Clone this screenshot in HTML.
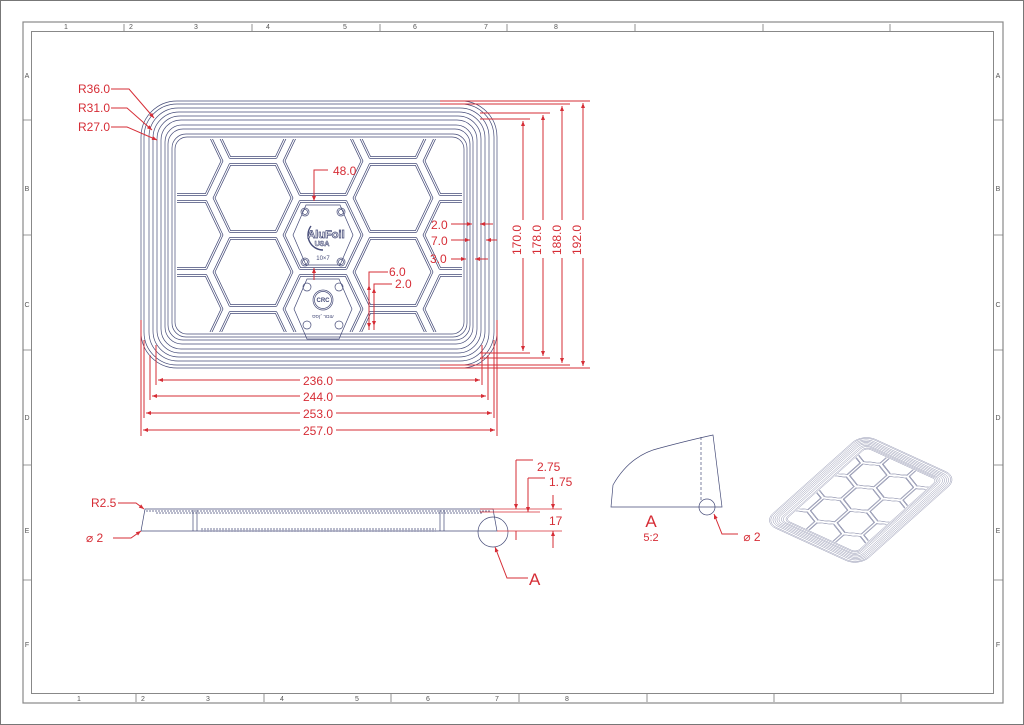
<!DOCTYPE html>
<html><head><meta charset="utf-8"><style>
html,body{margin:0;padding:0;background:#fff}
svg{display:block}
text{font-family:"Liberation Sans Narrow","Liberation Sans",sans-serif}
.r{fill:#d62d36}
.rl{stroke:#d62d36;stroke-width:1;fill:none}
.n{stroke:#454b78;stroke-width:0.7;fill:none}
.g{stroke:#888;fill:none}
</style></head><body>
<svg width="1024" height="725" viewBox="0 0 1024 725" xmlns="http://www.w3.org/2000/svg">
<defs>
<marker id="ar" viewBox="0 0 10 10" refX="10" refY="5" markerWidth="7" markerHeight="5" orient="auto-start-reverse" markerUnits="userSpaceOnUse">
<path d="M0,1 L10,5 L0,9 z" fill="#d62d36"/></marker>
<clipPath id="inner"><rect x="177" y="139" width="285" height="193" rx="10"/></clipPath>
<path id="h" d="M-39,0 L-23,-33.5 H23 L39,0 L23,33.5 H-23Z"/>
<g id="cells">
<use href="#h" x="183" y="161"/><use href="#h" x="183" y="235"/><use href="#h" x="183" y="309"/>
<use href="#h" x="253" y="124"/><use href="#h" x="253" y="198"/><use href="#h" x="253" y="272"/><use href="#h" x="253" y="346"/>
<use href="#h" x="323" y="161"/><use href="#h" x="323" y="235"/><use href="#h" x="323" y="309"/>
<use href="#h" x="393" y="124"/><use href="#h" x="393" y="198"/><use href="#h" x="393" y="272"/><use href="#h" x="393" y="346"/>
<use href="#h" x="463" y="161"/><use href="#h" x="463" y="235"/><use href="#h" x="463" y="309"/>
</g>
<g id="hexes">
<g clip-path="url(#inner)" stroke-linejoin="round" fill="none">
<use href="#cells" stroke="#454b78" stroke-width="2.6"/>
<use href="#cells" stroke="#fff" stroke-width="1.1"/>
</g>
<rect x="175" y="137" width="289" height="197" rx="12" fill="none" stroke="#454b78" stroke-width="0.7"/>
<rect x="172" y="134" width="295" height="203" rx="14" fill="none" stroke="#454b78" stroke-width="0.7"/>
</g>
<g id="tray">
<g class="n">
<rect x="141" y="101" width="356" height="267" rx="36"/>
<rect x="144" y="104" width="350" height="261" rx="33"/>
<rect x="149" y="108" width="340" height="253" rx="29"/>
<rect x="153" y="112" width="332" height="245" rx="26"/>
<rect x="157" y="116" width="324" height="237" rx="23"/>
<rect x="161" y="120" width="316" height="229" rx="20"/>
<rect x="165" y="125" width="308" height="219" rx="17"/>
<rect x="168" y="129" width="302" height="211" rx="15"/>
</g>
<use href="#hexes"/>
</g>
</defs>

<rect x="0.5" y="0.5" width="1023" height="724" fill="#fff" stroke="#777"/>
<rect x="23" y="22" width="980" height="681" class="g" stroke-width="1.2"/>
<rect x="31.5" y="31.5" width="962" height="662" class="g" stroke-width="1"/>
<g stroke="#777" stroke-width="0.8">
<path d="M124,24v7 M252,24v7 M380,24v7 M507,24v7 M635,24v7 M763,24v7 M890,24v7"/>
<path d="M136,694v8 M264,694v8 M391,694v8 M519,694v8 M647,694v8 M774,694v8 M901,694v8"/>
<path d="M23,120h8 M23,235h8 M23,350h8 M23,465h8 M23,580h8 M994,120h9 M994,235h9 M994,350h9 M994,465h9 M994,580h9"/>
</g>
<g font-size="7" fill="#555" text-anchor="middle">
<text x="66" y="29">1</text><text x="131" y="29">2</text><text x="196" y="29">3</text><text x="268" y="29">4</text><text x="345" y="29">5</text><text x="415" y="29">6</text><text x="486" y="29">7</text><text x="556" y="29">8</text>
<text x="79" y="701">1</text><text x="143" y="701">2</text><text x="208" y="701">3</text><text x="282" y="701">4</text><text x="357" y="701">5</text><text x="428" y="701">6</text><text x="497" y="701">7</text><text x="567" y="701">8</text>
<text x="27" y="78">A</text><text x="27" y="191">B</text><text x="27" y="307">C</text><text x="27" y="420">D</text><text x="27" y="533">E</text><text x="27" y="647">F</text>
<text x="998" y="78">A</text><text x="998" y="191">B</text><text x="998" y="307">C</text><text x="998" y="420">D</text><text x="998" y="533">E</text><text x="998" y="647">F</text>
</g>

<!-- TOP VIEW -->
<use href="#tray"/>
<g class="n">
<path d="M293,235 l13,-30 h34 l13,30 l-13,30 h-34z"/>
<path d="M294,309 l13,-30 h32 l13,30 l-13,30 h-32z"/>
<circle cx="305" cy="212" r="4"/><circle cx="341" cy="212" r="4"/><circle cx="305" cy="262" r="4"/><circle cx="341" cy="262" r="4"/>
<circle cx="305" cy="212" r="2.5"/><circle cx="341" cy="212" r="2.5"/><circle cx="305" cy="262" r="2.5"/><circle cx="341" cy="262" r="2.5"/>
<circle cx="307" cy="287" r="4"/><circle cx="339" cy="287" r="4"/><circle cx="307" cy="325" r="4"/><circle cx="339" cy="325" r="4"/>
<circle cx="323" cy="300" r="10"/><circle cx="323" cy="300" r="8.5"/>
<path d="M311,226 a15,15 0 0 0 12,24" stroke-width="1.4"/>
</g>
<text x="326" y="238" font-size="11" font-weight="bold" fill="#fff" stroke="#454b78" stroke-width="0.7" text-anchor="middle">AluFoil</text>
<text x="322" y="246" font-size="7" font-weight="bold" fill="#fff" stroke="#454b78" stroke-width="0.5" text-anchor="middle">USA</text>
<text x="323" y="260" font-size="6" fill="#454b78" text-anchor="middle">10×7</text>
<text x="323" y="302" font-size="6" font-weight="bold" fill="#454b78" text-anchor="middle">CRC</text>
<text x="323" y="318" font-size="5" fill="#454b78" text-anchor="middle">ﬠוםר ׳ןסס</text>

<g font-size="12" class="r">
<text x="78" y="93">R36.0</text><text x="78" y="112">R31.0</text><text x="78" y="131">R27.0</text>
</g>
<g class="rl">
<path d="M111,89 h18 l25,29" marker-end="url(#ar)"/>
<path d="M111,108 h16 l25,22" marker-end="url(#ar)"/>
<path d="M111,127 h16 l30,13" marker-end="url(#ar)"/>
</g>

<g class="rl" stroke-width="0.8">
<path d="M440,101 H590 M440,104 H570 M480,113 H550 M480,119 H530 M480,353 H530 M480,358 H550 M440,365 H570 M440,368 H590"/>
</g>
<g class="rl">
<path d="M523,121 V351" marker-start="url(#ar)" marker-end="url(#ar)"/>
<path d="M543,115 V356" marker-start="url(#ar)" marker-end="url(#ar)"/>
<path d="M562,106 V363" marker-start="url(#ar)" marker-end="url(#ar)"/>
<path d="M583,103 V366" marker-start="url(#ar)" marker-end="url(#ar)"/>
</g>
<g font-size="12" class="r" text-anchor="middle">
<rect x="512" y="220" width="14" height="38" fill="#fff"/>
<rect x="532" y="220" width="14" height="38" fill="#fff"/>
<rect x="552" y="220" width="14" height="38" fill="#fff"/>
<rect x="572" y="220" width="14" height="38" fill="#fff"/>
<text transform="translate(521,240) rotate(-90)">170.0</text>
<text transform="translate(541,240) rotate(-90)">178.0</text>
<text transform="translate(561,240) rotate(-90)">188.0</text>
<text transform="translate(581,240) rotate(-90)">192.0</text>
</g>

<g class="rl" stroke-width="0.8">
<path d="M156,345 V385 M482,345 V385 M150,355 V400 M488,355 V400 M144,340 V418 M494,340 V418 M141,320 V436 M497,320 V436"/>
</g>
<g class="rl">
<path d="M158,380 H480" marker-start="url(#ar)" marker-end="url(#ar)"/>
<path d="M152,396 H486" marker-start="url(#ar)" marker-end="url(#ar)"/>
<path d="M146,413 H492" marker-start="url(#ar)" marker-end="url(#ar)"/>
<path d="M143,430 H495" marker-start="url(#ar)" marker-end="url(#ar)"/>
</g>
<g font-size="12" class="r" text-anchor="middle">
<rect x="300" y="373" width="36" height="14" fill="#fff"/><text x="318" y="385">236.0</text>
<rect x="300" y="389" width="36" height="14" fill="#fff"/><text x="318" y="401">244.0</text>
<rect x="300" y="406" width="36" height="14" fill="#fff"/><text x="318" y="418">253.0</text>
<rect x="300" y="423" width="36" height="14" fill="#fff"/><text x="318" y="435">257.0</text>
</g>

<g class="rl">
<path d="M314,201 V170 H328" /><path d="M314,190 V201" marker-end="url(#ar)"/>
<path d="M314,268 V280" marker-start="url(#ar)"/>
<path d="M451,224 H472" marker-end="url(#ar)"/><path d="M493,224 H480" marker-end="url(#ar)"/>
<path d="M451,240 H470" marker-end="url(#ar)"/><path d="M497,240 H486" marker-end="url(#ar)"/>
<path d="M451,259 H466" marker-end="url(#ar)"/><path d="M488,259 H475" marker-end="url(#ar)"/>
<path d="M369,330 V272 H388"/><path d="M369,295 V285" marker-end="url(#ar)"/><path d="M369,318 V328" marker-end="url(#ar)"/>
<path d="M374,330 V284 H392"/><path d="M374,296 V288" marker-end="url(#ar)"/><path d="M374,318 V326" marker-end="url(#ar)"/>
</g>
<g font-size="12" class="r">
<text x="333" y="175">48.0</text>
<text x="431" y="229">2.0</text><text x="431" y="245">7.0</text><text x="430" y="263">3.0</text>
<text x="389" y="276">6.0</text><text x="395" y="288">2.0</text>
</g>

<!-- SIDE VIEW -->
<g class="n">
<path d="M145,509 H493 L497,531 H141 Z"/>
<path d="M146,511 H490" stroke-dasharray="2,1"/>
<path d="M156,513 H482" stroke-dasharray="2,1"/>
<path d="M193,510 V531 M197,510 V531 M440,510 V531 M444,510 V531"/>
<path d="M201,529 H436 M201,531 H436" stroke-dasharray="2,1"/>
<circle cx="493" cy="532" r="15"/>
</g>
<g class="rl">
<path d="M497,531 H562 M480,509 H562 M480,512 H540" stroke-width="0.8"/>
<path d="M516,460 H533"/><path d="M516,460 V509" marker-end="url(#ar)"/><path d="M516,540 V531" />
<path d="M528,478 H545"/><path d="M528,478 V512" marker-end="url(#ar)"/>
<path d="M553,495 V509" marker-end="url(#ar)"/><path d="M553,548 V531" marker-end="url(#ar)"/>
<path d="M118,503 H136 L144,509" marker-end="url(#ar)"/>
<path d="M113,538 H131 L141,531" marker-end="url(#ar)"/>
<path d="M495,547 L507,578 H528" marker-start="url(#ar)"/>
</g>
<g font-size="12" class="r">
<text x="537" y="471">2.75</text><text x="549" y="486">1.75</text><text x="549" y="525">17</text>
<text x="91" y="507">R2.5</text><text x="86" y="542">⌀ 2</text>
<text x="529" y="585" font-size="17">A</text>
</g>

<!-- DETAIL A -->
<g class="n" stroke-width="1">
<path d="M611,507 L613,485 Q630,455 660,448 Q690,440 713,435 L722,507 Z"/>
<path d="M701,437 V500" stroke-dasharray="3,2"/>
<circle cx="707" cy="507" r="8"/>
</g>
<g class="rl"><path d="M714,514 L722,534 H738" marker-start="url(#ar)"/></g>
<g class="r" text-anchor="middle">
<text x="651" y="527" font-size="17">A</text>
<text x="651" y="541" font-size="11">5:2</text>
<text x="752" y="541" font-size="12">⌀ 2</text>
</g>

<!-- ISO VIEW -->
<g transform="matrix(0.28,-0.25,0.36,0.165,687,541)">
<use href="#tray"/>
</g>
</svg>
</body></html>
